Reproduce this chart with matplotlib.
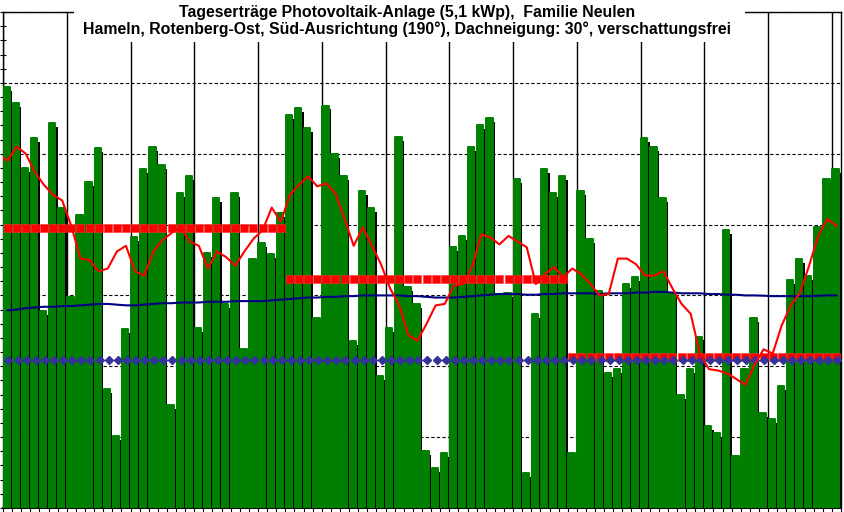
"""
Tageserträge PV-Anlage: Balken + gleitender Mittelwert + Monats-Sollwerte
"""

import matplotlib
matplotlib.use('Agg')
import matplotlib.pyplot as plt
from matplotlib.patches import Rectangle
from matplotlib.ticker import MultipleLocator

# Tageserträge in kWh (Juli, August, September)
ertrag_juli = [29.7, 28.6, 24.0, 26.1, 13.9, 27.2, 21.2, 14.9, 20.7, 23.0, 25.4,
               8.4, 5.1, 12.6, 19.1, 23.9, 25.5, 24.2, 7.3, 22.2, 23.4, 12.7,
               18.0, 21.9, 14.4, 22.2, 11.2, 17.6, 18.7, 17.9, 20.8]
ertrag_august = [27.7, 28.2, 26.8, 13.4, 28.4, 25.0, 23.4, 11.8, 22.4, 21.2, 9.3,
                 12.7, 26.2, 15.6, 14.4, 4.0, 2.8, 3.9, 18.4, 19.2, 25.5, 27.0,
                 27.5, 15.1, 15.2, 23.2, 2.5, 13.7, 23.9, 22.2, 23.4]
ertrag_september = [3.9, 22.4, 19.0, 15.3, 9.5, 9.8, 15.8, 16.3, 26.1, 25.5,
                    21.9, 15.2, 8.0, 9.8, 12.1, 5.8, 5.3, 19.6, 3.7, 9.8, 13.4,
                    6.7, 6.3, 8.6, 16.1, 17.6, 16.4, 19.8, 23.2, 23.9]

# gleitender Mittelwert (rote Linie), Wert vom Vortag vor dem 1. Juli
gleitend_vortag = 25.0
gleitend = [24.5, 25.5, 25.0, 23.7, 22.8, 22.1, 21.7, 19.9, 17.6, 17.5, 16.7,
            16.9, 18.1, 18.5, 16.7, 16.4, 18.1, 18.9, 19.4, 19.8, 18.8, 18.5,
            16.9, 18.1, 17.7, 17.1, 18.1, 19.0, 19.6, 21.2, 20.2,
            22.1, 22.8, 23.4, 22.7, 22.9, 22.2, 20.4, 18.5, 19.8, 18.5, 17.2,
            15.5, 14.3, 12.2, 11.8, 13.0, 14.3, 14.4, 15.7, 15.8, 17.0, 19.3,
            19.1, 18.6, 19.2, 18.8, 18.4, 15.8, 16.5, 17.0, 16.3,
            16.9, 16.5, 15.8, 15.0, 15.1, 17.6, 17.6, 17.2, 16.4, 16.4, 16.7,
            15.5, 14.4, 13.7, 10.9, 9.8, 9.7, 9.5, 9.1, 8.7, 10.1, 11.2, 10.9,
            12.9, 14.3, 15.2, 17.1, 19.2, 20.4, 19.9]

# Jahresmittel bisher (blaue Linie)
jahresmittel = [13.95, 14.0, 14.1, 14.15, 14.2, 14.2, 14.25, 14.25, 14.3, 14.35,
                14.4, 14.4, 14.35, 14.3, 14.3, 14.35, 14.4, 14.45, 14.45, 14.5,
                14.5, 14.5, 14.55, 14.55, 14.55, 14.6, 14.6, 14.6, 14.6, 14.65,
                14.7, 14.75, 14.8, 14.85, 14.85, 14.9, 14.9, 14.95, 14.95, 15.0,
                15.0, 15.0, 15.0, 15.0, 14.95, 14.95, 14.9, 14.85, 14.85, 14.85,
                14.9, 14.95, 15.0, 15.05, 15.1, 15.1, 15.1, 15.05, 15.05, 15.1,
                15.1, 15.15, 15.15, 15.15, 15.15, 15.1, 15.15, 15.15, 15.15, 15.2,
                15.2, 15.25, 15.25, 15.2, 15.15, 15.15, 15.15, 15.1, 15.1, 15.05,
                15.05, 15.0, 15.0, 14.98, 14.95, 14.95, 14.95, 14.95, 14.95, 14.98,
                15.0, 15.0]

# Monats-Sollwerte (rot gestrichelt) und Referenzwert (blaue Rauten)
monat_soll = [19.76, 16.18, 10.64]
referenz = 10.47

titel = ("Tageserträge Photovoltaik-Anlage (5,1 kWp),  Familie Neulen\n"
         "Hameln, Rotenberg-Ost, Süd-Ausrichtung (190°), Dachneigung: 30°, verschattungsfrei")

monate = [ertrag_juli, ertrag_august, ertrag_september]
ertrag = ertrag_juli + ertrag_august + ertrag_september
n = len(ertrag)
tage = list(range(n))

fig = plt.figure(figsize=(8.45, 5.12), dpi=100)
fig.patch.set_facecolor('white')
ax = fig.add_axes([3 / 845, 4 / 512, 838 / 845, 496 / 512])

# Balken mit Schatten
ax.bar([t + 0.25 for t in tage], [v - 0.28 for v in ertrag], width=0.77,
       align='edge', color='black', zorder=2)
ax.bar([t + 0.05 for t in tage], ertrag, width=0.70, align='edge',
       color='#008000', edgecolor='#008000', linewidth=1.4,
       joinstyle='round', zorder=3)

# Monats-Sollwerte als dicke rote Striche
start = 0
for wert, monat in zip(monat_soll, monate):
    xs = [start + k + 0.5 for k in range(len(monat))]
    ax.plot(xs, [wert] * len(monat), linestyle='none', marker='s',
            markersize=5.8, markerfacecolor='#ff0000',
            markeredgecolor='#ff3030', markeredgewidth=0.4, zorder=4)
    start += len(monat)

# Referenz (blaue Rauten)
ax.plot([t + 0.6 for t in tage], [referenz] * n, linestyle='none', marker='D',
        markersize=4.4, color='#333399', zorder=5)

# Jahresmittel
ax.plot([t + 0.5 for t in tage], jahresmittel, color='#000080', linewidth=1.5,
        zorder=5)

# gleitender Mittelwert
ax.plot([-0.5] + [t + 0.5 for t in tage], [gleitend_vortag] + gleitend,
        color='#ff0000', linewidth=1.5, zorder=6)

ax.set_xlim(0, n)
ax.set_ylim(0, 35)

ax.xaxis.set_major_locator(MultipleLocator(7))
ax.xaxis.set_minor_locator(MultipleLocator(1))
ax.yaxis.set_major_locator(MultipleLocator(5))
ax.yaxis.set_minor_locator(MultipleLocator(1))
ax.set_xticklabels([])
ax.set_yticklabels([])
ax.tick_params(axis='y', which='both', direction='inout', length=5, width=0.8,
               color='black')
ax.tick_params(axis='x', which='both', direction='out', length=3, width=0.8,
               color='black')

ax.set_axisbelow(True)
ax.grid(True, axis='y', which='major', color='black', linestyle=(0, (3, 2)),
        linewidth=0.8)
ax.grid(True, axis='x', which='major', color='black', linestyle='-',
        linewidth=1.0)
for side in ['left', 'right', 'top', 'bottom']:
    ax.spines[side].set_color('black')
    ax.spines[side].set_linewidth(1.0)
ax.spines['bottom'].set_linewidth(1.4)

# weißer Titelkasten
fig.patches.append(Rectangle((74 / 845, 1 - 42 / 512), (745 - 74) / 845,
                             42 / 512 + 0.01, transform=fig.transFigure,
                             facecolor='white', edgecolor='none', zorder=10))
fig.text(407 / 845, 1 - 21 / 512, titel, ha='center', va='center',
         fontsize=11.4, fontweight='bold', family='Liberation Sans',
         linespacing=1.15, zorder=11)

plt.savefig('out.png', dpi=100)
plt.close()
